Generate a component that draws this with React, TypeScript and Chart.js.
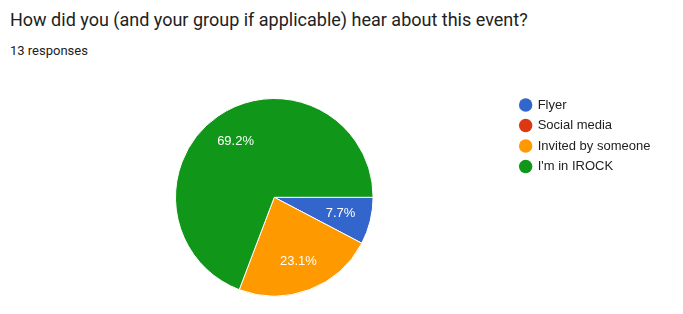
import React, { useEffect, useRef } from "react";
import { Chart, registerables } from "chart.js";

Chart.register(...registerables);

const titleText = "How did you (and your group if applicable) hear about this event?";
const subtitleText = "13 responses";
const categories = ["Flyer", "Social media", "Invited by someone", "I'm in IROCK"];
const responses = [1, 0, 3, 9];
const sliceColors = ["#3366cc", "#dc3912", "#ff9900", "#109618"];

const pieLabels = {
  id: "pieLabels",
  afterDatasetsDraw(chart: any) {
    const ctx = chart.ctx;
    const data = chart.data.datasets[0].data as number[];
    const total = data.reduce((a, b) => a + b, 0);
    const meta = chart.getDatasetMeta(0);
    ctx.save();
    ctx.fillStyle = "#ffffff";
    ctx.font = "13px 'Liberation Sans', Arial, sans-serif";
    ctx.textAlign = "center";
    ctx.textBaseline = "middle";
    meta.data.forEach((arc: any, i: number) => {
      const v = data[i];
      if (!v) return;
      const p = arc.getProps(["x", "y", "startAngle", "endAngle", "outerRadius"], true);
      const mid = (p.startAngle + p.endAngle) / 2;
      const r = p.outerRadius * 0.69;
      const text = ((v / total) * 100).toFixed(1) + "%";
      ctx.fillText(text, p.x + Math.cos(mid) * r, p.y + Math.sin(mid) * r);
    });
    ctx.restore();
  },
};

export default function App() {
  const ref = useRef<HTMLCanvasElement | null>(null);
  useEffect(() => {
    if (!ref.current) return;
    const chart = new Chart(ref.current, {
      type: "pie",
      data: {
        labels: categories,
        datasets: [
          {
            data: responses,
            backgroundColor: sliceColors,
            borderColor: "#ffffff",
            borderWidth: 1,
            radius: 98.8,
          } as any,
        ],
      },
      options: {
        animation: false,
        responsive: false,
        rotation: 90,
        layout: { padding: { top: 91, bottom: 10.4, left: 35.9, right: 22.6 } },
        plugins: {
          tooltip: { enabled: false },
          legend: {
            position: "right",
            align: "start",
            labels: {
              usePointStyle: true,
              pointStyle: "circle",
              boxWidth: 11,
              boxHeight: 9.5,
              padding: 7.5,
              color: "#222222",
              font: { family: "'Liberation Sans', Arial, sans-serif", size: 13 },
              generateLabels(chart: any) {
                const items = (Chart as any).overrides.pie.plugins.legend.labels.generateLabels(chart);
                return items.map((it: any) => ({ ...it, lineWidth: 0, strokeStyle: "rgba(0,0,0,0)" }));
              },
            },
          },
        },
      },
      plugins: [pieLabels],
    });
    return () => chart.destroy();
  }, []);

  return (
    <div style={{ position: "absolute", left: 0, top: 0, width: 683, height: 314, background: "#ffffff" }}>
      <div
        style={{
          position: "absolute",
          left: 10,
          top: 9.3,
          fontFamily: "Roboto, sans-serif",
          fontSize: 18,
          lineHeight: "21px",
          color: "#212121",
          whiteSpace: "nowrap",
        }}
      >
        {titleText}
      </div>
      <div
        style={{
          position: "absolute",
          left: 10,
          top: 43.4,
          fontFamily: "Roboto, sans-serif",
          fontSize: 13,
          lineHeight: "15px",
          color: "#212121",
          whiteSpace: "nowrap",
        }}
      >
        {subtitleText}
      </div>
      <canvas ref={ref} width={683} height={314} style={{ position: "absolute", left: 0, top: 0 }} />
    </div>
  );
}
